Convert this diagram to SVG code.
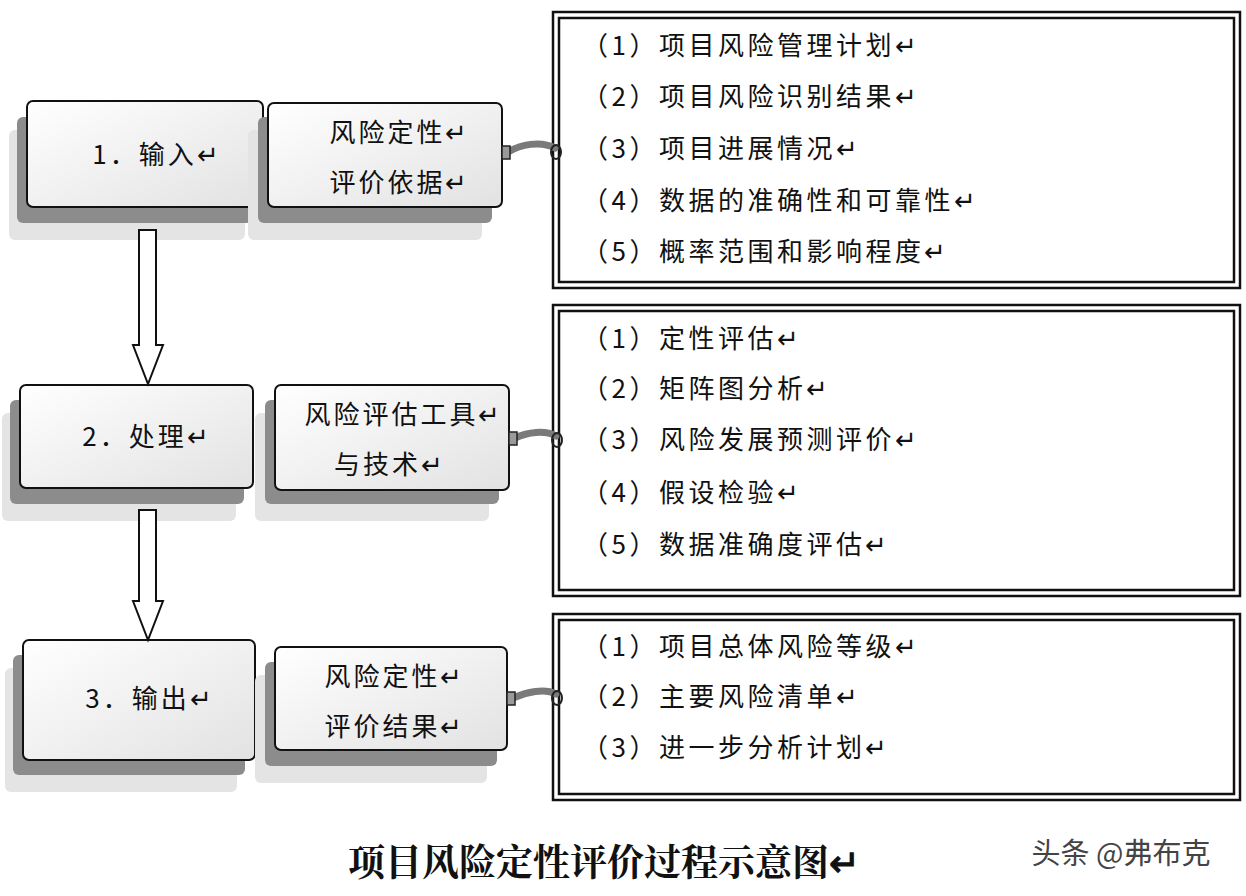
<svg xmlns="http://www.w3.org/2000/svg" width="1246" height="896" viewBox="0 0 1246 896">
<defs>
<linearGradient id="g" x1="0" y1="0" x2="1" y2="1"><stop offset="0" stop-color="#ffffff"/><stop offset="1" stop-color="#e2e2e2"/></linearGradient>
<style>
text{font-family:"Noto Sans CJK SC","Noto Sans",sans-serif;fill:#111}
.box{fill:url(#g);stroke:#111;stroke-width:2}
.sh1{fill:#8c8c8c}
.sh2{fill:#e4e4e4}
.lb{font-size:26px;letter-spacing:3px}
.li{font-size:26px;letter-spacing:3.5px}
.outer{fill:#fff;stroke:#111;stroke-width:2.5}
.inner{fill:none;stroke:#111;stroke-width:2.5}
.arr{fill:#fff;stroke:#111;stroke-width:2}
.con{fill:none;stroke:#7a7a7a;stroke-width:7;stroke-linecap:round}
.ring{fill:none;stroke:#222;stroke-width:2}
</style>
</defs>
<rect width="1246" height="896" fill="#fff"/>
<g id="n1">
<rect class="sh2" x="9" y="130" width="236" height="110" rx="6"/>
<rect class="sh1" x="17" y="117" width="236" height="106" rx="6"/>
<rect class="box" x="27" y="101" width="236" height="106" rx="6"/>
<text class="lb" x="157" y="164" text-anchor="middle">1．输入↵</text>
</g>
<g id="n1b">
<rect class="sh2" x="248" y="130" width="234" height="110" rx="6"/>
<rect class="sh1" x="258" y="117" width="234" height="106" rx="6"/>
<rect class="box" x="268" y="103" width="234" height="104" rx="6"/>
<text class="lb" x="400" y="142" text-anchor="middle">风险定性↵</text>
<text class="lb" x="400" y="192" text-anchor="middle">评价依据↵</text>
</g>
<g id="n2">
<rect class="sh2" x="2" y="413" width="234" height="108" rx="6"/>
<rect class="sh1" x="10" y="400" width="234" height="104" rx="6"/>
<rect class="box" x="20" y="385" width="233" height="103" rx="6"/>
<text class="lb" x="147" y="446" text-anchor="middle">2．处理↵</text>
</g>
<g id="n2b">
<rect class="sh2" x="255" y="413" width="234" height="108" rx="6"/>
<rect class="sh1" x="265" y="400" width="234" height="104" rx="6"/>
<rect class="box" x="275" y="385" width="234" height="105" rx="6"/>
<text class="lb" x="404" y="424" text-anchor="middle">风险评估工具↵</text>
<text class="lb" x="390" y="474" text-anchor="middle">与技术↵</text>
</g>
<g id="n3">
<rect class="sh2" x="5" y="668" width="232" height="124" rx="6"/>
<rect class="sh1" x="13" y="655" width="232" height="120" rx="6"/>
<rect class="box" x="23" y="640" width="232" height="120" rx="6"/>
<text class="lb" x="150" y="708" text-anchor="middle">3．输出↵</text>
</g>
<g id="n3b">
<rect class="sh2" x="255" y="675" width="232" height="108" rx="6"/>
<rect class="sh1" x="265" y="662" width="232" height="104" rx="6"/>
<rect class="box" x="275" y="647" width="232" height="103" rx="6"/>
<text class="lb" x="395" y="686" text-anchor="middle">风险定性↵</text>
<text class="lb" x="395" y="736" text-anchor="middle">评价结果↵</text>
</g>
<g id="l1">
<rect class="outer" x="553" y="12" width="687" height="276"/>
<rect class="inner" x="559" y="18" width="675" height="264"/>
<text class="li" x="582" y="55">（1）项目风险管理计划↵</text>
<text class="li" x="582" y="106">（2）项目风险识别结果↵</text>
<text class="li" x="582" y="158">（3）项目进展情况↵</text>
<text class="li" x="582" y="210">（4）数据的准确性和可靠性↵</text>
<text class="li" x="582" y="261">（5）概率范围和影响程度↵</text>
</g>
<g id="l2">
<rect class="outer" x="553" y="305" width="687" height="291"/>
<rect class="inner" x="559" y="311" width="675" height="279"/>
<text class="li" x="582" y="348">（1）定性评估↵</text>
<text class="li" x="582" y="398">（2）矩阵图分析↵</text>
<text class="li" x="582" y="449">（3）风险发展预测评价↵</text>
<text class="li" x="582" y="502">（4）假设检验↵</text>
<text class="li" x="582" y="554">（5）数据准确度评估↵</text>
</g>
<g id="l3">
<rect class="outer" x="553" y="614" width="687" height="186"/>
<rect class="inner" x="559" y="620" width="675" height="174"/>
<text class="li" x="582" y="656">（1）项目总体风险等级↵</text>
<text class="li" x="582" y="706">（2）主要风险清单↵</text>
<text class="li" x="582" y="757">（3）进一步分析计划↵</text>
</g>
<g id="connectors">
<polygon class="arr" points="139,230 156,230 156,345 163,345 148,384 133,345 139,345"/>
<polygon class="arr" points="139,510 156,510 156,601 163,601 148,640 133,601 139,601"/>
<path class="con" d="M508,152 C520,145 540,140 555,148"/>
<rect x="502" y="146" width="8" height="13" fill="#9a9a9a" stroke="#222" stroke-width="1.5"/>
<ellipse class="ring" cx="556" cy="152" rx="5" ry="7"/>
<path class="con" d="M515,438 C528,432 545,430 556,436"/>
<rect x="509" y="432" width="8" height="13" fill="#9a9a9a" stroke="#222" stroke-width="1.5"/>
<ellipse class="ring" cx="557" cy="440" rx="5" ry="7"/>
<path class="con" d="M513,698 C526,692 545,688 556,694"/>
<rect x="507" y="692" width="8" height="13" fill="#9a9a9a" stroke="#222" stroke-width="1.5"/>
<ellipse class="ring" cx="557" cy="698" rx="5" ry="7"/>
</g>
<text x="604" y="876" text-anchor="middle" style="font-family:'Noto Serif CJK SC','Noto Sans CJK SC',serif;font-size:37px;font-weight:bold">项目风险定性评价过程示意图↵</text>
<text x="1121" y="864" text-anchor="middle" style="font-size:29px;fill:#444">头条 @弗布克</text>
</svg>
